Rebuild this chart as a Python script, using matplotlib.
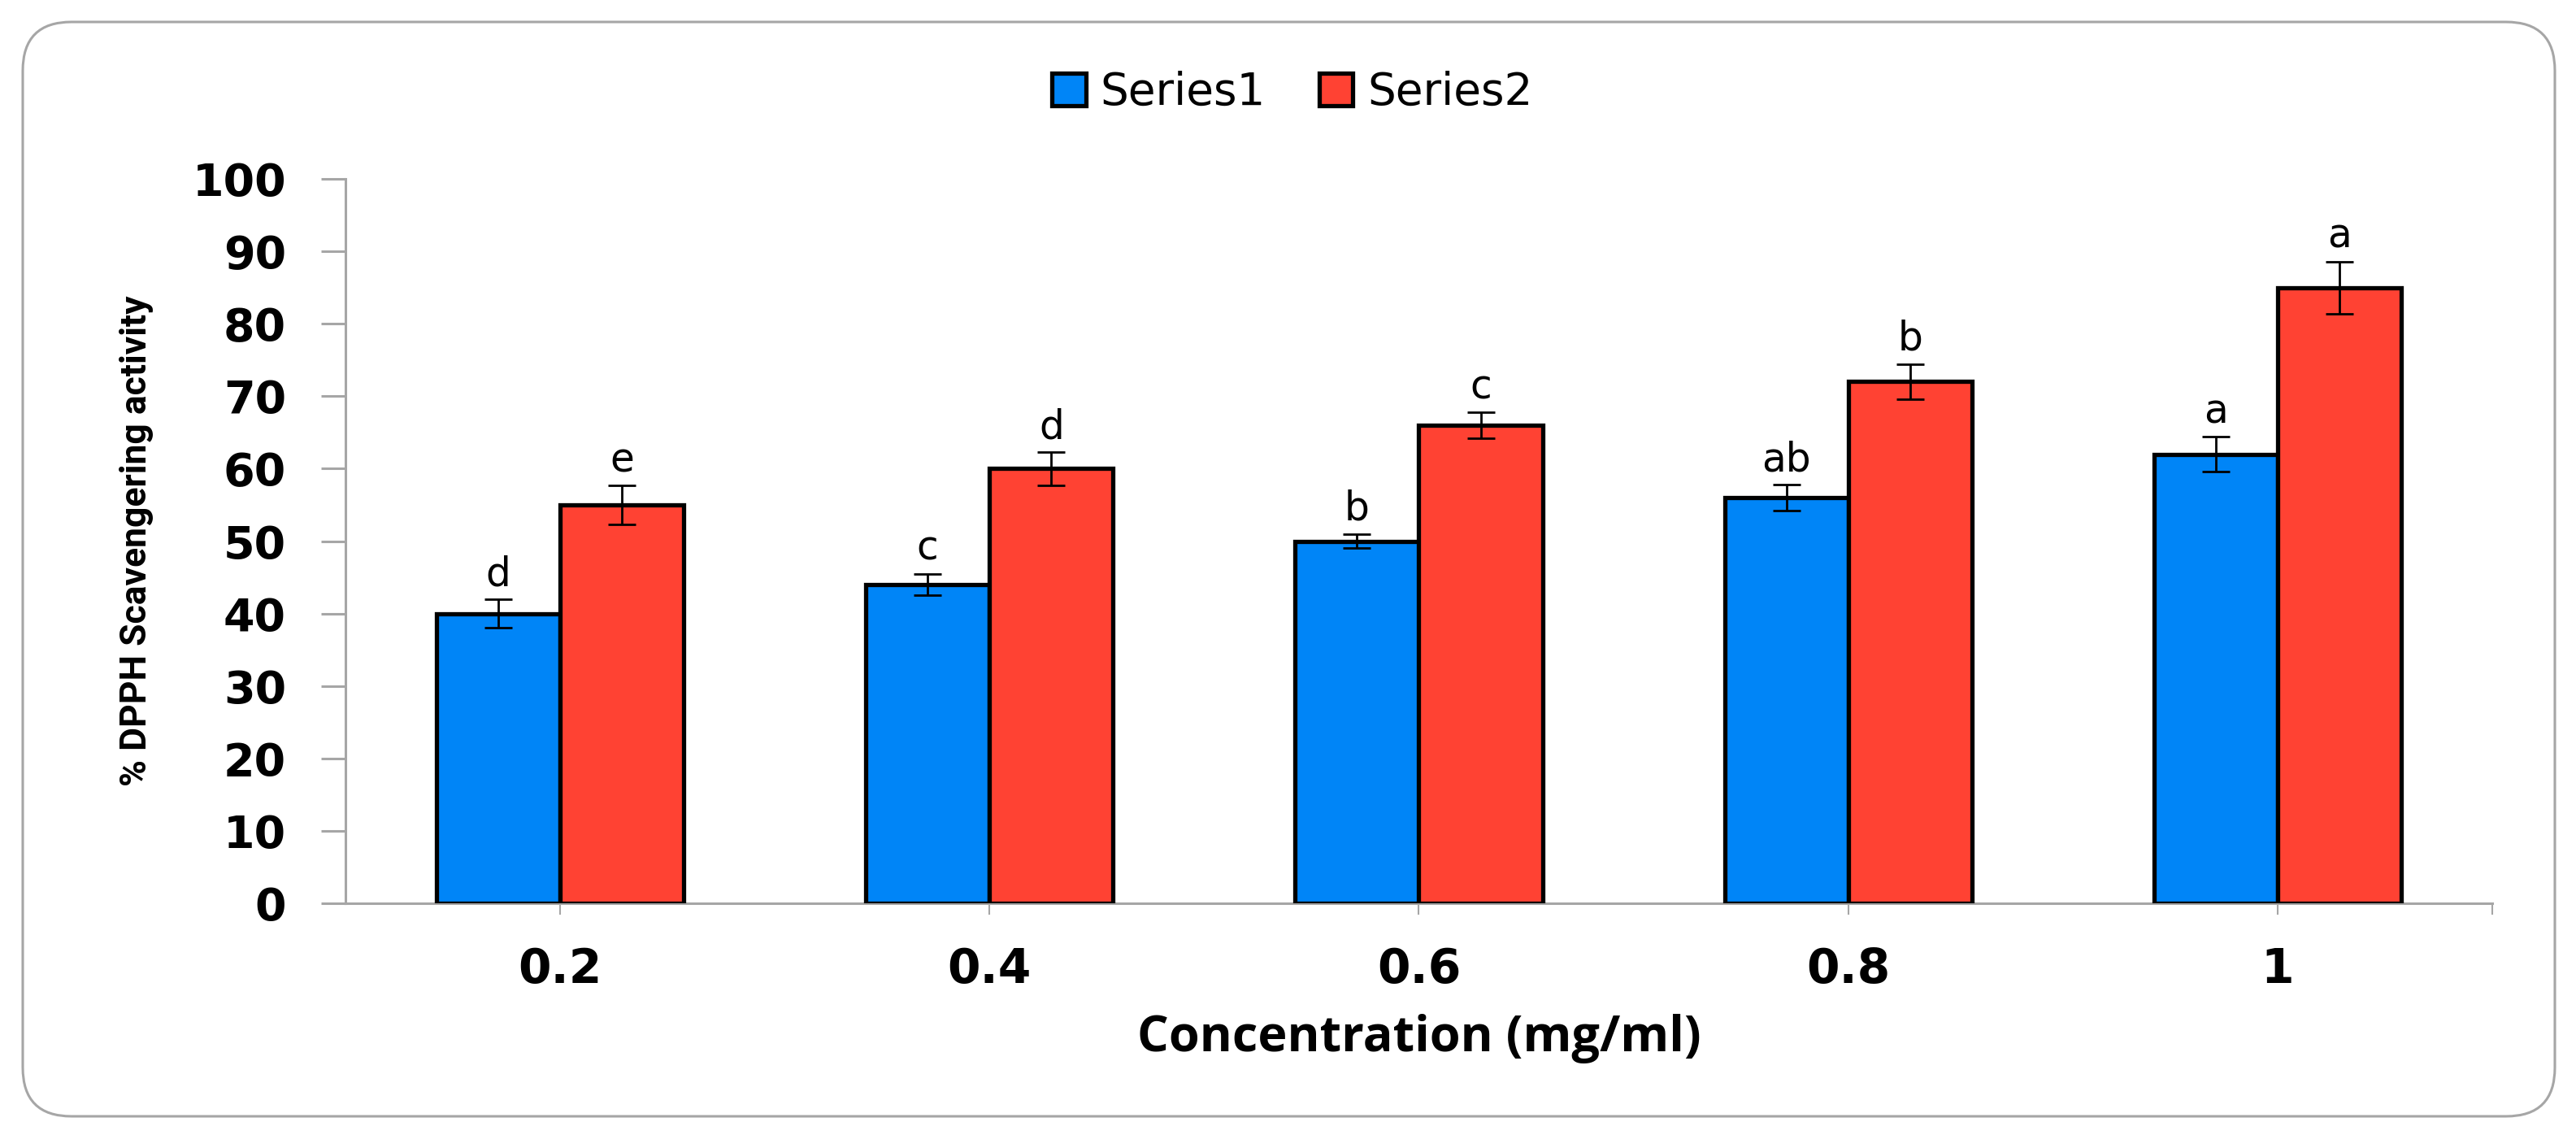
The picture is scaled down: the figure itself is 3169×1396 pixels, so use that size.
import numpy as np
import matplotlib
matplotlib.use("Agg")
import matplotlib.pyplot as plt
from matplotlib.patches import FancyBboxPatch

# ------------------------------------------------------------------ #
concentrations = ["0.2", "0.4", "0.6", "0.8", "1"]
series1 = [40, 44, 50, 56, 62]
series2 = [55, 60, 66, 72, 85]
err1 = [2.0, 1.5, 1.0, 1.8, 2.4]
err2 = [2.7, 2.3, 1.8, 2.45, 3.6]
letters1 = ["d", "c", "b", "ab", "a"]
letters2 = ["e", "d", "c", "b", "a"]
yticks = [0, 10, 20, 30, 40, 50, 60, 70, 80, 90, 100]

BLUE = "#0085f7"
RED = "#ff4233"
GREY = "#a6a6a6"

# ------------------------------------------------------------------ #
fig = plt.figure(figsize=(31.69, 13.96), dpi=100)
ax = fig.add_axes([425/3169, 1 - 1111/1396, (3066-425)/3169, (1111-220)/1396])

x = np.arange(len(concentrations))
w = 0.288
bars1 = ax.bar(x - w/2, series1, w, color=BLUE, edgecolor="black", linewidth=3.8,
               label="Series1", zorder=3)
bars2 = ax.bar(x + w/2, series2, w, color=RED, edgecolor="black", linewidth=3.8,
               label="Series2", zorder=3)
ax.errorbar(x - w/2, series1, yerr=err1, fmt="none", ecolor="black", elinewidth=2,
            capsize=12, capthick=2, zorder=4)
ax.errorbar(x + w/2, series2, yerr=err2, fmt="none", ecolor="black", elinewidth=2,
            capsize=12, capthick=2, zorder=4)

# lettres de significativite
for xs, vals, errs, labs in [(x - w/2, series1, err1, letters1), (x + w/2, series2, err2, letters2)]:
  for xi, v, e, t in zip(xs, vals, errs, labs):
    ax.annotate(t, (xi, v + e), xytext=(0, 12), textcoords="offset points",
                ha="center", va="baseline", fontsize=35, family="DejaVu Sans")

ax.set_xlim(-0.5, 4.5)
ax.set_ylim(0, 100)
ax.set_yticks(yticks)
ax.set_xticks(x)
ax.set_xticks([4.5], minor=True)
ax.set_xticklabels(concentrations)

for s in ["top", "right"]:
  ax.spines[s].set_visible(False)
for s in ["left", "bottom"]:
  ax.spines[s].set_color(GREY)
  ax.spines[s].set_linewidth(2.2)

ax.tick_params(axis="y", direction="out", length=21.6, width=2.2, color=GREY, pad=31)
ax.tick_params(axis="x", which="both", direction="out", length=10, width=1.5, color=GREY, pad=28)
for lab in ax.get_yticklabels():
  lab.set_fontfamily("DejaVu Sans")
  lab.set_fontweight("bold")
  lab.set_fontsize(40)
for lab in ax.get_xticklabels():
  lab.set_fontfamily("DejaVu Sans")
  lab.set_fontweight("bold")
  lab.set_fontsize(42)

ax.set_xlabel("Concentration (mg/ml)", fontsize=44, fontweight="bold", family="Open Sans", va="center")
ax.xaxis.set_label_coords(0.5, (1111-1278)/(1111-220))
ax.set_ylabel("% DPPH Scavengering activity", fontsize=32, fontweight="bold",
              family="Roboto", va="center")
ax.yaxis.set_label_coords((168-425)/(3066-425), 0.5)

leg = fig.legend(handles=[bars1, bars2], labels=["Series1", "Series2"], loc="center",
                 bbox_to_anchor=(1590/3169, 1 - 114/1396), ncol=2, frameon=False,
                 prop={"family": "DejaVu Sans", "size": 39.5}, handlelength=0.75, handleheight=0.75,
                 handletextpad=0.33, columnspacing=1.2)

# cadre arrondi autour de la figure
frame = FancyBboxPatch((0.28, 0.23), 31.15, 13.46, boxstyle="round,pad=0,rounding_size=0.6",
                       transform=fig.dpi_scale_trans, facecolor="none", edgecolor=GREY,
                       linewidth=2.2)
fig.patches.append(frame)

fig.savefig("out.png", dpi=100)
